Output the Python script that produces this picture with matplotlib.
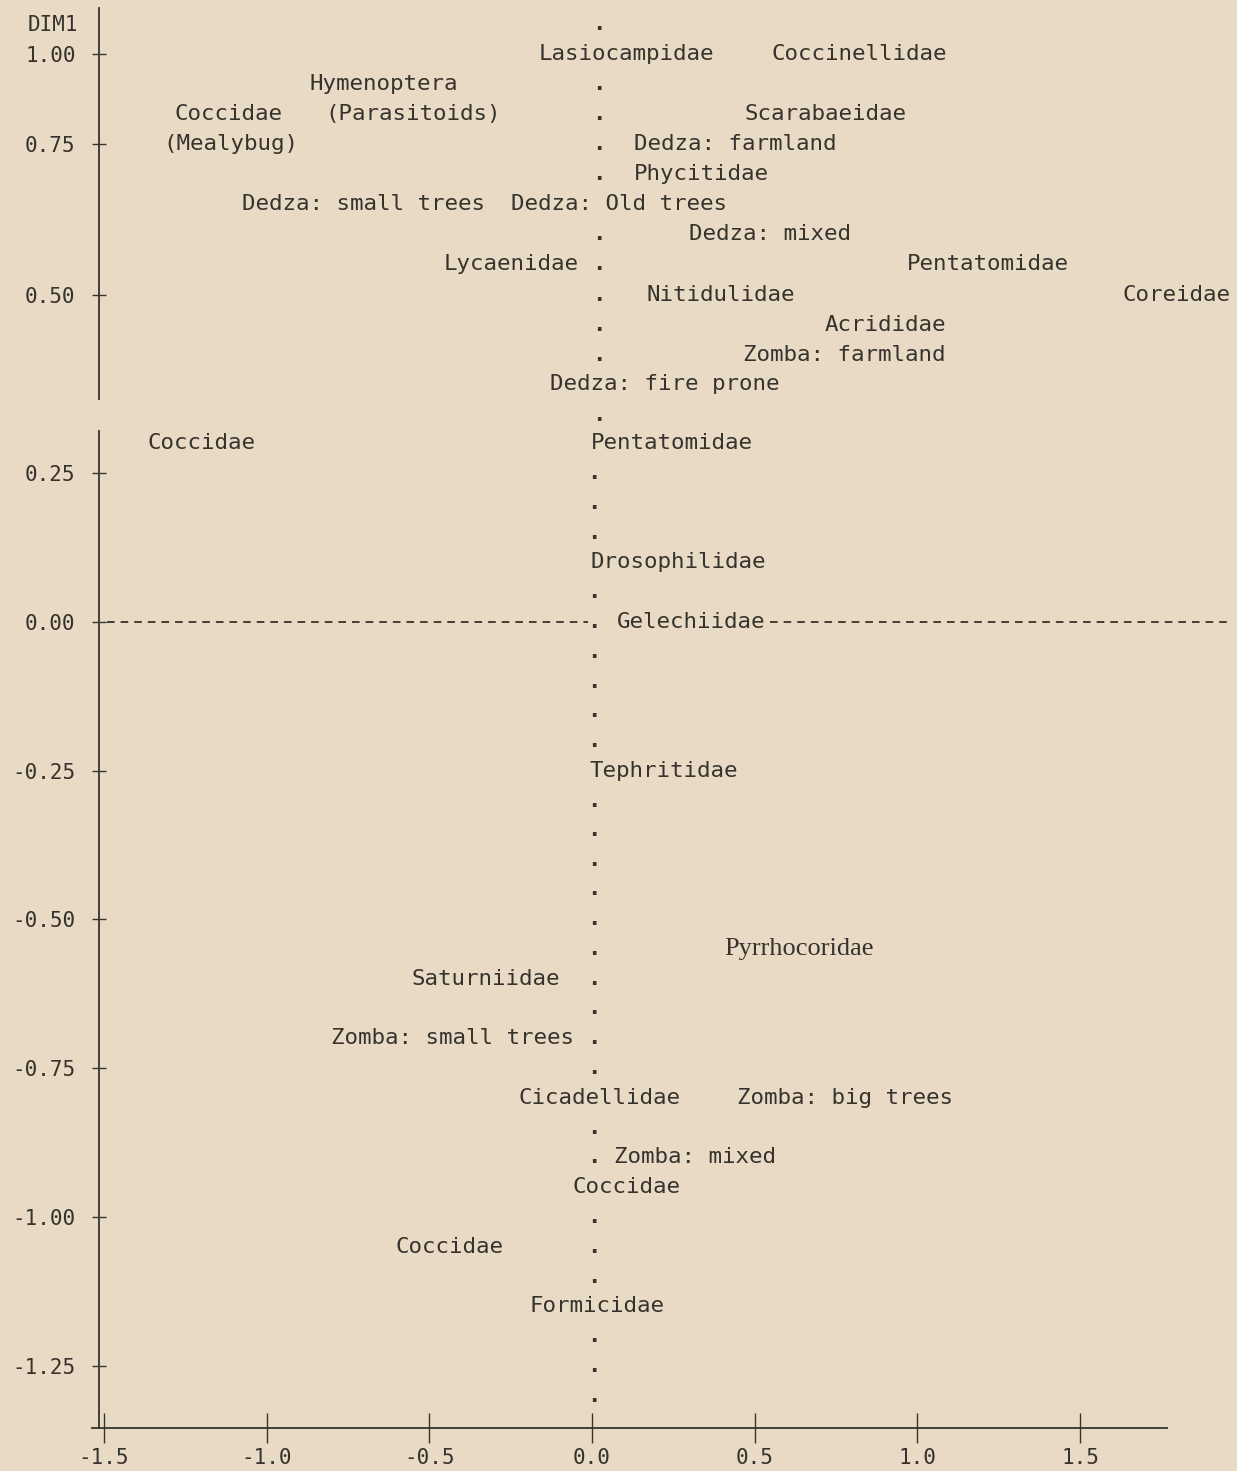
import numpy as np
import matplotlib
matplotlib.use("Agg")
import matplotlib.pyplot as plt

# ── Ordination scores: DIM2 runs across, DIM1 runs up ─────────────────────────
MONO_NAMES = [
    "Lasiocampidae", "Coccinellidae", "Hymenoptera", "Coccidae", "(Parasitoids)",
    "Scarabaeidae", "(Mealybug)", "Dedza: farmland", "Phycitidae",
    "Dedza: small trees", "Dedza: Old trees", "Dedza: mixed", "Lycaenidae",
    "Pentatomidae", "Nitidulidae", "Coreidae", "Acrididae", "Zomba: farmland",
    "Dedza: fire prone", "Coccidae", "Pentatomidae", "Drosophilidae",
    "Gelechiidae", "Tephritidae", "Saturniidae", "Zomba: small trees",
    "Cicadellidae", "Zomba: big trees", "Zomba: mixed", "Coccidae", "Coccidae",
    "Formicidae",
]
MONO_DIM2 = [
    -0.163, 0.553, -0.867, -1.282, -0.821,
    0.470, -1.319, 0.129, 0.129,
    -1.076, -0.249, 0.298, -0.455,
    0.968, 0.169, 1.632, 0.716, 0.464,
    -0.129, -1.368, -0.003, -0.006,
    0.077, -0.009, -0.556, -0.802,
    -0.227, 0.446, 0.068, -0.061, -0.603,
    -0.191,
]
MONO_DIM1 = [
    1.000, 1.000, 0.917, 0.833, 0.833,
    0.833, 0.750, 0.750, 0.700,
    0.651, 0.651, 0.601, 0.551,
    0.551, 0.500, 0.500, 0.458, 0.416,
    0.375, 0.292, 0.292, 0.100,
    0.000, -0.250, -0.600, -0.700,
    -0.800, -0.800, -0.900, -0.950, -1.050,
    -1.150,
]

SERIF_NAMES = ["Pyrrhocoridae"]
SERIF_DIM2 = [0.406]
SERIF_DIM1 = [-0.550]

# printer dots marking the DIM2 = 0 column
DOTS_UPPER_DIM1 = [1.083, 0.917, 0.833, 0.750, 0.700, 0.601, 0.551, 0.500,
                   0.458, 0.416, 0.331]
DOTS_LOWER_DIM1 = [0.25, 0.20, 0.15, 0.05, 0.00, -0.05, -0.10, -0.15, -0.20,
                   -0.30, -0.35, -0.40, -0.45, -0.50, -0.55, -0.60, -0.65,
                   -0.70, -0.75, -0.85, -0.90, -1.00, -1.05, -1.10, -1.20,
                   -1.25, -1.30]

XTICKS = [-1.5, -1.0, -0.5, 0.0, 0.5, 1.0, 1.5]
XTICK_LABELS = ["-1.5", "-1.0", "-0.5", "0.0", "0.5", "1.0", "1.5"]
YTICKS = [1.00, 0.75, 0.50, 0.25, 0.00, -0.25, -0.50, -0.75, -1.00, -1.25]
YTICK_LABELS = ["1.00", "0.75", "0.50", "0.25", "0.00", "-0.25", "-0.50",
                "-0.75", "-1.00", "-1.25"]

# the printed DIM1 axis is not evenly spaced: pixel row of each tick value
AXIS_VALS = np.array([-1.50, -1.25, -1.00, -0.75, -0.50, -0.25, 0.00,
                      0.25, 0.50, 0.75, 1.00, 1.25])
AXIS_ROWS = np.array([1515, 1366, 1217, 1068, 919, 771, 622,
                      473, 295, 144, 54, -36], dtype=float)


def dim1_forward(v):
    return np.interp(v, AXIS_VALS, -AXIS_ROWS)


def dim1_inverse(r):
    return np.interp(r, -AXIS_ROWS, AXIS_VALS)


BG = "#e9dac5"
INK = "#35332c"
MONO = "DejaVu Sans Mono"
plt.rcParams["lines.scale_dashes"] = False

fig = plt.figure(figsize=(12.37, 14.71), dpi=100, facecolor=BG)
ax = fig.add_axes([0, 0, 1, 1], facecolor=BG)
ax.set_yscale("function", functions=(dim1_forward, dim1_inverse))
ax.set_xlim(-1.8199, 1.9827)
ax.set_ylim(-1.4262, 1.15)

# axes in printer style
for side in ("top", "right"):
    ax.spines[side].set_visible(False)
ax.spines["left"].set_position(("data", -1.515))
ax.spines["left"].set_bounds(-1.354, 0.309)
ax.spines["bottom"].set_position(("data", -1.354))
ax.spines["bottom"].set_bounds(-1.537, 1.768)
for side in ("left", "bottom"):
    ax.spines[side].set_color(INK)
    ax.spines[side].set_linewidth(1.3)
ax.plot([-1.515, -1.515], [0.354, 1.128], color=INK, lw=1.3, clip_on=False)

ax.set_xticks(XTICKS)
ax.set_xticklabels(XTICK_LABELS, family=MONO, fontsize=15, color=INK)
ax.set_yticks(YTICKS)
ax.set_yticklabels(YTICK_LABELS, family=MONO, fontsize=15, color=INK)
ax.tick_params(axis="x", direction="inout", length=21, width=1.0,
               color=INK, pad=4)
ax.tick_params(axis="y", direction="inout", length=10, width=1.0,
               color=INK, pad=12)
ax.minorticks_off()

ax.text(-1.58, 1.081, "DIM1", family=MONO, fontsize=15, color=INK,
        ha="right", va="center")

# dashed DIM1 = 0 reference row, broken around the Gelechiidae label
dash = (0, (5.5, 4.3))
ax.plot([-1.49, -0.012], [0, 0], color=INK, lw=1.3, linestyle=dash)
ax.plot([0.547, 1.961], [0, 0], color=INK, lw=1.3, linestyle=dash,
        clip_on=False)

for y in DOTS_UPPER_DIM1:
    ax.text(0.022, y, ".", family=MONO, fontsize=16.2, color=INK,
            fontweight="bold", ha="center", va="center")
for y in DOTS_LOWER_DIM1:
    ax.text(0.006, y, ".", family=MONO, fontsize=16.2, color=INK,
            fontweight="bold", ha="center", va="center")

for name, x, y in zip(MONO_NAMES, MONO_DIM2, MONO_DIM1):
    ax.text(x, y, name, family=MONO, fontsize=16.2, color=INK,
            ha="left", va="center")

for name, x, y in zip(SERIF_NAMES, SERIF_DIM2, SERIF_DIM1):
    ax.text(x, y, name, family="Liberation Serif", fontsize=19, color=INK,
            ha="left", va="center")

fig.savefig("out.png", dpi=100, facecolor=BG)
